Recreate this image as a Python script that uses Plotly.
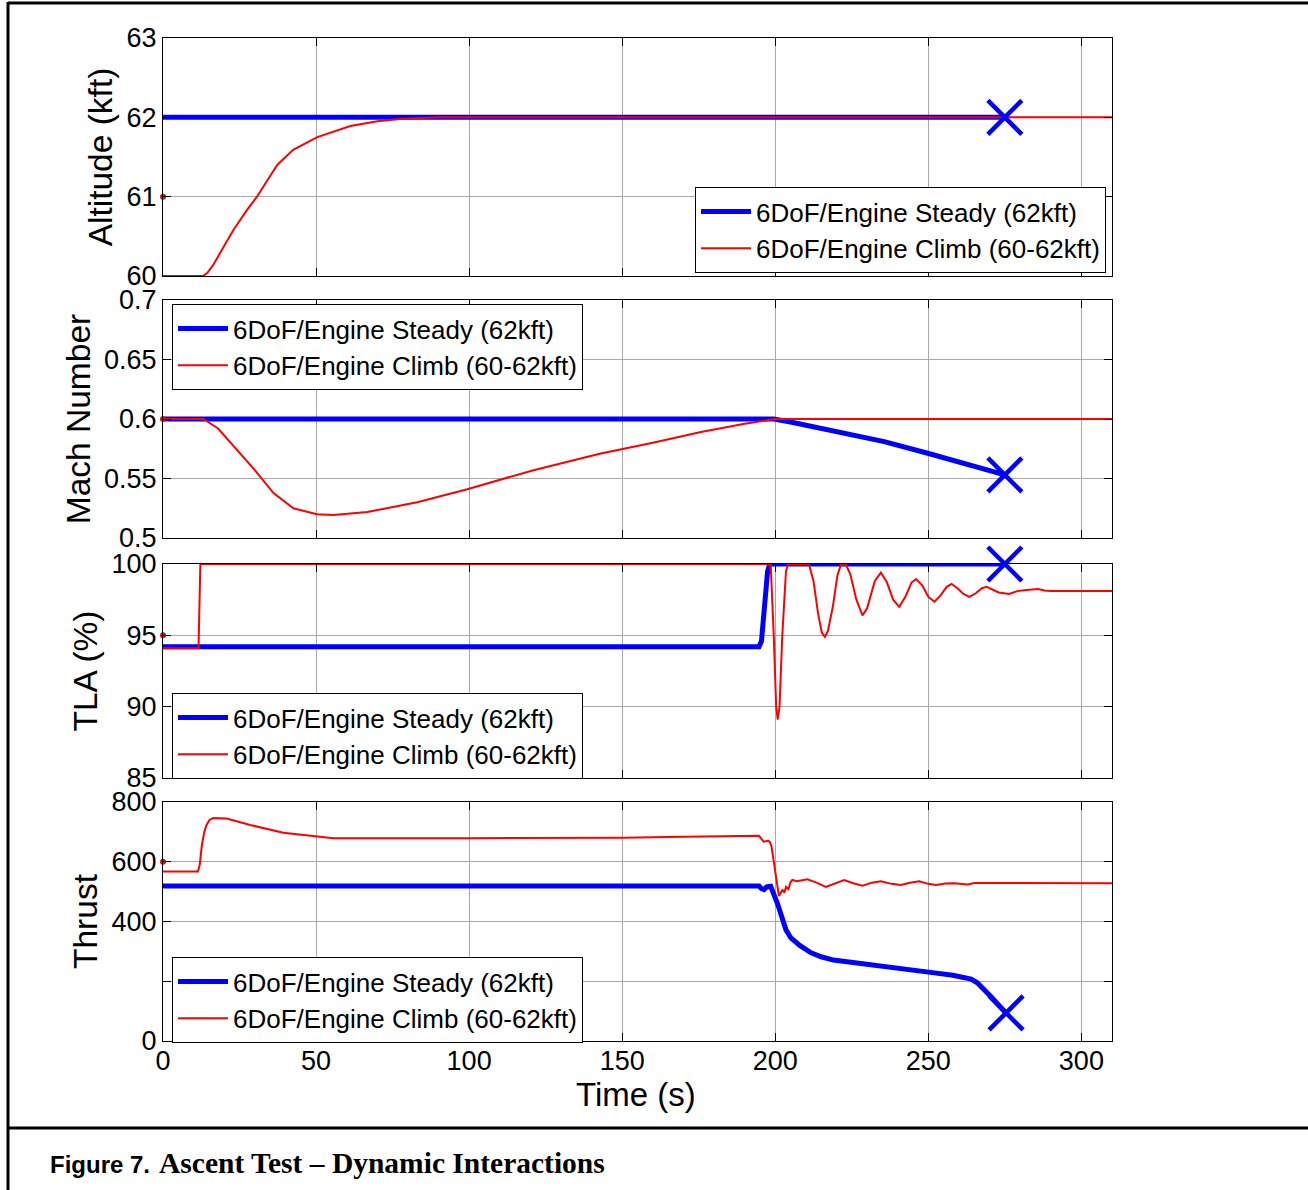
import plotly.graph_objects as go

# ---------------- data ----------------
legend_names = ["6DoF/Engine Steady (62kft)", "6DoF/Engine Climb (60-62kft)"]
y_titles = ["Altitude (kft)", "Mach Number", "TLA (%)", "Thrust"]
x_title = "Time (s)"

x_ticks = [0, 50, 100, 150, 200, 250, 300]
x_ticktext = ["0", "50", "100", "150", "200", "250", "300"]

alt_ticks = [60, 61, 62, 63]
alt_ticktext = ["60", "61", "62", "63"]
mach_ticks = [0.5, 0.55, 0.6, 0.65, 0.7]
mach_ticktext = ["0.5", "0.55", "0.6", "0.65", "0.7"]
tla_ticks = [85, 90, 95, 100]
tla_ticktext = ["85", "90", "95", "100"]
thr_ticks = [0, 200, 400, 600, 800]
thr_ticktext = ["0", "", "400", "600", "800"]

# Altitude (kft)
alt_steady_t = [0, 275]
alt_steady_v = [62.0, 62.0]
alt_climb_t = [0, 13.1, 14.5, 16.4, 20.0, 23.0, 27.4, 30.7, 34.0, 37.3, 42.5, 50.4, 61.2, 70.0, 77.5, 90.0, 310]
alt_climb_v = [60.0, 60.0, 60.04, 60.14, 60.38, 60.58, 60.83, 61.0, 61.2, 61.40, 61.59, 61.75, 61.89, 61.95, 61.98, 62.0, 62.0]

# Mach
mach_steady_t = [0, 199.5, 205, 215, 225, 235.6, 249.8, 262, 275]
mach_steady_v = [0.6, 0.6, 0.5975, 0.592, 0.5865, 0.581, 0.5712, 0.5625, 0.553]
mach_climb_t = [0, 13.2, 18.0, 25.2, 30.0, 36.1, 42.6, 50.3, 55.7, 66.7, 83.0, 99.4, 121, 143, 160, 175.7, 190, 200, 310]
mach_climb_v = [0.6, 0.6, 0.592, 0.5714, 0.557, 0.5378, 0.525, 0.520, 0.5193, 0.5218, 0.530, 0.541, 0.557, 0.571, 0.580, 0.589, 0.596, 0.6, 0.6]

# TLA (%)
tla_steady_t = [0, 194.7, 195.5, 196.5, 197.5, 198.2, 275]
tla_steady_v = [94.2, 94.2, 94.6, 97.0, 99.5, 100.0, 100.0]
tla_climb_t = [0, 11.6, 12.2, 198.5, 199.5, 200.3, 200.8, 201.4, 202.3, 203.5, 204.2,
               211.0, 212.5, 214.0, 215.2, 216.2, 217.2, 218.8, 220.3, 221.5, 223.0,
               224.5, 226.5, 228.5, 230.0, 232.5, 234.5, 236.5, 238.5, 240.5, 242.5,
               244.5, 246.0, 248.0, 250.0, 252.0, 254.0, 256.0, 257.6, 259.5, 261.5,
               263.4, 265.5, 267.5, 269.0, 271.0, 273.0, 276.4, 279.0, 282.0, 285.8,
               288.0, 290.0, 310]
tla_climb_v = [94.1, 94.1, 100.0, 100.0, 95.0, 90.0, 89.1, 90.0, 95.0, 99.5, 100.0,
               100.0, 98.8, 96.5, 95.2, 94.9, 95.3, 97.0, 99.2, 100.0, 100.0,
               99.3, 97.5, 96.4, 96.9, 98.8, 99.4, 98.7, 97.5, 97.0, 97.7,
               98.7, 98.95, 98.5, 97.7, 97.36, 97.8, 98.4, 98.6, 98.3, 97.9,
               97.7, 97.95, 98.3, 98.4, 98.2, 98.0, 97.9, 98.1, 98.18, 98.25,
               98.15, 98.1, 98.1]

# Thrust
thr_steady_t = [0, 194.7, 195.5, 196.3, 197.2, 198.5, 200.7, 202.5, 203.5, 205.1, 208, 211.7,
                215, 219, 230, 241, 252, 258, 261.7, 264, 266, 268, 270.5, 273, 275.4]
thr_steady_v = [519, 519, 510, 507, 516, 518, 461, 405, 372, 345, 320, 295,
                282, 271, 258, 244, 228, 220, 214, 207, 195, 176, 148, 120, 94]
thr_climb_t = [0, 11.4, 12.0, 12.7, 13.5, 14.2, 15.2, 16.4, 20.8, 28.5, 39.3, 50.3, 55.7,
               100, 150, 170, 191, 194.7, 195.6, 196.2, 197.6, 198.2, 198.8, 199.5, 200.2,
               201.2, 202.0, 202.4, 203.0, 203.5, 204.3, 205.0, 205.6, 207, 210.5, 213.5,
               216.5, 219.5, 222.5, 225.5, 228.5, 231.5, 234.5, 238, 241, 244, 247, 250,
               252.5, 255.5, 258.5, 263, 265, 310]
thr_climb_v = [567, 567, 590, 656, 700, 723, 740, 746, 745, 723, 697, 684, 679,
               679, 680, 684, 687, 687, 675, 667, 670, 667, 650, 600, 549,
               485, 500, 505, 497, 516, 508, 532, 539, 535, 541, 530,
               516, 528, 539, 528, 520, 530, 535, 526, 522, 530, 535, 526,
               522, 527, 528, 524, 529, 528]

# initial samples of the climb run (dots at t=0)
init_t = [0, 0, 0, 0]
init_v = [61.0, 0.6, 95.0, 600.0]

# end-of-run markers of the steady run
end_t = [275, 275, 275, 275.4]
end_v = [62.0, 0.553, 100.0, 94.0]

# ---------------- layout helpers ----------------
W, H = 1308, 1190
L, R, T, B = 163, 1112, 38, 1041


def fx(px):
    return (px - L) / (R - L)


def fy(py):
    return (B - py) / (B - T)


panel_px = [(38, 276), (300, 538), (564, 778), (802, 1041)]
ranges = [[60, 63], [0.5, 0.7], [85, 100], [0, 800]]
tickvals = [alt_ticks, mach_ticks, tla_ticks, thr_ticks]
ticktexts = [alt_ticktext, mach_ticktext, tla_ticktext, thr_ticktext]

steady = [(alt_steady_t, alt_steady_v), (mach_steady_t, mach_steady_v),
          (tla_steady_t, tla_steady_v), (thr_steady_t, thr_steady_v)]
climb = [(alt_climb_t, alt_climb_v), (mach_climb_t, mach_climb_v),
         (tla_climb_t, tla_climb_v), (thr_climb_t, thr_climb_v)]

FONT = "Liberation Sans, Arial, sans-serif"
BLUE = "rgb(0,0,255)"
RED = "rgb(255,0,0)"
GRID = "#a8a8a8"

fig = go.Figure()

for i in range(4):
    sfx = "" if i == 0 else str(i + 1)
    xa, ya = "x" + sfx, "y" + sfx
    leg = "legend" + sfx
    fig.add_trace(go.Scatter(x=steady[i][0], y=steady[i][1], mode="lines",
                             line=dict(color=BLUE, width=5), name=legend_names[0],
                             xaxis=xa, yaxis=ya, legend=leg))
    fig.add_trace(go.Scatter(x=climb[i][0], y=climb[i][1], mode="lines",
                             line=dict(color=RED, width=2), name=legend_names[1],
                             xaxis=xa, yaxis=ya, legend=leg))
    fig.add_trace(go.Scatter(x=[init_t[i]], y=[init_v[i]], mode="markers",
                             marker=dict(color=RED, size=6), showlegend=False,
                             cliponaxis=False, xaxis=xa, yaxis=ya))
    fig.add_trace(go.Scatter(x=[end_t[i]], y=[end_v[i]], mode="markers",
                             marker=dict(symbol="x-thin", size=34,
                                         line=dict(color=BLUE, width=4.5)),
                             showlegend=False, cliponaxis=False, xaxis=xa, yaxis=ya))

    top_px, bot_px = panel_px[i]
    common = dict(showline=True, linecolor="black", linewidth=1.2, mirror="ticks",
                  ticks="inside", ticklen=8, tickcolor="black", tickwidth=1,
                  showgrid=True, gridcolor=GRID, gridwidth=1, zeroline=False,
                  tickfont=dict(family=FONT, size=27, color="black"))
    fig.layout["xaxis" + sfx] = dict(
        common, domain=[0, 1], anchor=ya, range=[0, 310],
        tickmode="array", tickvals=x_ticks, ticktext=x_ticktext,
        showticklabels=(i == 3), ticklabelstandoff=-5)
    fig.layout["yaxis" + sfx] = dict(
        common, domain=[fy(bot_px), fy(top_px)], anchor=xa, range=ranges[i],
        tickmode="array", tickvals=tickvals[i], ticktext=ticktexts[i],
        title=dict(text=y_titles[i], standoff=3,
                   font=dict(family=FONT, size=33.5, color="black")))

leg_common = dict(bgcolor="white", bordercolor="black", borderwidth=1,
                  font=dict(family=FONT, size=26, color="black"),
                  itemwidth=50, tracegroupgap=0)
fig.layout["legend"] = dict(leg_common, x=fx(1106), y=fy(273), xanchor="right", yanchor="bottom")
fig.layout["legend2"] = dict(leg_common, x=fx(172), y=fy(304), xanchor="left", yanchor="top")
fig.layout["legend3"] = dict(leg_common, x=fx(172), y=fy(693), xanchor="left", yanchor="top")
fig.layout["legend4"] = dict(leg_common, x=fx(172), y=fy(957), xanchor="left", yanchor="top")

# figure frame (paper coordinates derived from pixel positions)
shapes = [
    dict(type="line", xref="paper", yref="paper", x0=fx(8), x1=fx(8), y0=fy(2), y1=fy(1190),
         line=dict(color="black", width=3)),
    dict(type="line", xref="paper", yref="paper", x0=fx(8), x1=fx(1308), y0=fy(3), y1=fy(3),
         line=dict(color="black", width=3)),
    dict(type="line", xref="paper", yref="paper", x0=fx(8), x1=fx(1308), y0=fy(1128), y1=fy(1128),
         line=dict(color="black", width=3)),
]

annotations = [
    dict(text=x_title, xref="paper", yref="paper", x=fx(636), y=fy(1094),
         xanchor="center", yanchor="middle", showarrow=False,
         font=dict(family=FONT, size=33, color="black")),
    dict(text="<b>Figure 7.</b>", xref="paper", yref="paper", x=fx(48), y=fy(1164),
         xanchor="left", yanchor="middle", showarrow=False,
         font=dict(family=FONT, size=24, color="black")),
    dict(text="<b>Ascent Test \u2013 Dynamic Interactions</b>", xref="paper", yref="paper",
         x=fx(157), y=fy(1163), xanchor="left", yanchor="middle", showarrow=False,
         font=dict(family="Liberation Serif, Times New Roman, serif", size=29.5, color="black")),
]

fig.update_layout(width=W, height=H, autosize=False,
                  margin=dict(l=L, r=W - R, t=T, b=H - B),
                  paper_bgcolor="white", plot_bgcolor="white",
                  shapes=shapes, annotations=annotations, showlegend=True)

fig.write_html("out.html", config={"displayModeBar": False},
               post_script="document.body.style.margin='0px';document.body.style.padding='0px';")
